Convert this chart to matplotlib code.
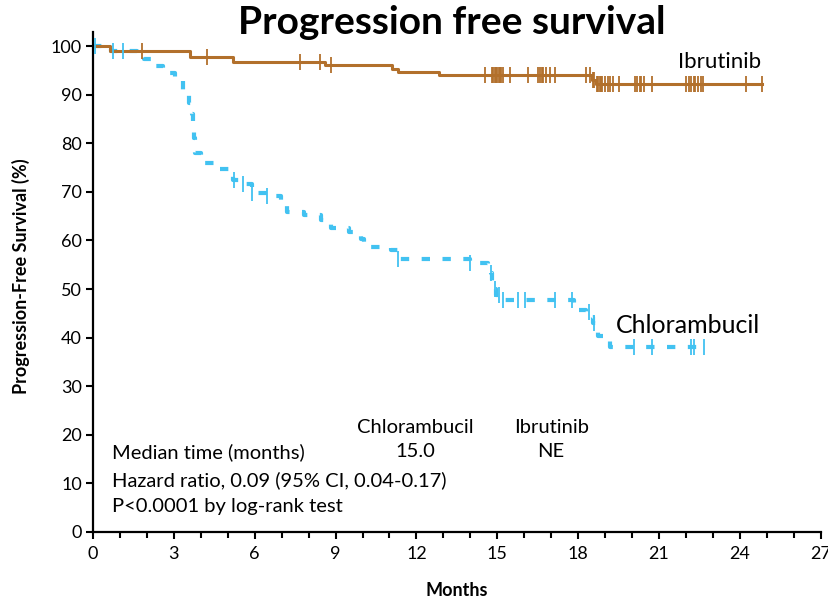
import numpy as np
import matplotlib
matplotlib.use("Agg")
import matplotlib.pyplot as plt

plt.rcParams["font.family"] = ["Lato", "DejaVu Sans"]

# Kaplan-Meier steps: (time in months, survival % after the event)
ibr_times = [0, 0.63, 3.6, 5.2, 8.6, 11.1, 11.3, 12.85, 18.5, 18.65]
ibr_surv = [100, 99.0, 97.8, 96.8, 96.2, 95.3, 94.7, 94.0, 93.0, 92.3]
ibr_end = 24.84
ibr_censor = [1.81, 4.23, 7.67, 8.42, 8.83, 14.54, 14.8, 14.85, 14.9, 14.95,
              15.0, 15.05, 15.1, 15.15, 15.2, 15.47, 16.15, 16.5, 16.6, 16.65,
              16.7, 16.8, 16.96, 17.15, 18.3, 18.45, 18.55, 18.6, 18.7, 18.75,
              18.8, 18.85, 18.9, 19.0, 19.1, 19.2, 19.3, 19.53, 20.1, 20.2,
              20.3, 20.35, 20.45, 20.75, 22.0, 22.1, 22.2, 22.3, 22.35, 22.45,
              22.55, 22.65, 24.22, 24.84]

chl_times = [0, 0.65, 1.65, 1.9, 2.2, 2.6, 3.05, 3.35, 3.55, 3.67, 3.72, 3.76,
             3.8, 4.0, 4.6, 5.1, 5.2, 5.47, 5.9, 6.47, 6.96, 7.2, 7.83, 8.45,
             8.83, 9.5, 9.94, 10.07, 10.3, 11.06, 11.3, 13.98, 14.66, 14.75,
             14.8, 14.85, 14.95, 15.16, 17.85, 18.3, 18.45, 18.55, 18.65,
             18.75, 19.2]
chl_surv = [100, 99.0, 98.2, 97.3, 95.8, 94.5, 92.9, 90.5, 88.3, 86.0, 83.5,
            81.0, 78.0, 76.0, 74.8, 73.3, 72.4, 71.7, 69.8, 69.1, 68.0, 65.9,
            65.2, 64.2, 62.5, 61.8, 60.4, 59.7, 58.7, 58.0, 56.1, 55.3, 54.9,
            53.3, 51.5, 50.0, 48.8, 47.7, 45.7, 45.2, 44.3, 43.0, 41.5, 40.3,
            38.1]
chl_end = 22.73
chl_censor = [0.07, 0.74, 1.12, 5.22, 5.57, 5.9, 6.47, 11.31, 13.98, 14.75,
              14.9, 15.05, 15.2, 15.78, 16.03, 17.15, 17.77, 18.4, 18.6, 20.06,
              20.75, 22.17, 22.3, 22.67]

x_ticks = list(range(0, 28, 3))
y_ticks = list(range(0, 101, 10))

BROWN = "#B2702C"
BLUE = "#42C2F1"


def surv_at(times, surv, t):
    """Survival value of a step curve at time t."""
    idx = np.searchsorted(times, t, side="right") - 1
    return surv[max(idx, 0)]


def draw_curve(ax, times, surv, end, censor, color, lw, mark_z=3, **kw):
    xs = list(times) + [end]
    ys = list(surv) + [surv[-1]]
    ax.step(xs, ys, where="post", color=color, lw=lw, **kw)
    cy = [surv_at(times, surv, t) for t in censor]
    ax.plot(censor, cy, ls="none", marker="|", ms=11, mew=1.3, color=color,
            zorder=mark_z)


fig = plt.figure(figsize=(8.29, 6.0), dpi=100)
ax = fig.add_axes([93 / 829, 68 / 600, (820.7 - 93) / 829, (532 - 32) / 600])

draw_curve(ax, chl_times, chl_surv, chl_end, chl_censor, BLUE, 3.0,
           mark_z=4, dashes=(2, 3), solid_capstyle="butt", dash_capstyle="butt")
draw_curve(ax, ibr_times, ibr_surv, ibr_end, ibr_censor, BROWN, 2.2)

ax.set_xlim(0, 27)
ax.set_ylim(0, 102.9)
ax.set_xticks(x_ticks)
ax.set_xticks(range(0, 28), minor=True)
ax.set_yticks(y_ticks)
ax.tick_params(axis="both", labelsize=13, width=1.5, length=5, color="black")
ax.tick_params(axis="x", which="minor", width=1.5, length=4)
ax.tick_params(axis="x", pad=5)
ax.tick_params(axis="y", pad=3)
for side in ("top", "right"):
    ax.spines[side].set_visible(False)
for side in ("left", "bottom"):
    ax.spines[side].set_linewidth(1.6)
for lbl in ax.get_xticklabels():
    lbl.set_clip_on(False)

# curve labels
ax.text(21.7, 96.7, "Ibrutinib", fontsize=16, ha="left", va="center")
ax.text(19.4, 42.6, "Chlorambucil", fontsize=18, ha="left", va="center")

# summary table
ax.text(11.95, 21.6, "Chlorambucil", fontsize=14.5, ha="center", va="center")
ax.text(17.0, 21.6, "Ibrutinib", fontsize=14.5, ha="center", va="center")
ax.text(0.7, 16.5, "Median time (months)", fontsize=14.5, va="center")
ax.text(11.95, 16.5, "15.0", fontsize=14.5, ha="center", va="center")
ax.text(17.0, 16.5, "NE", fontsize=14.5, ha="center", va="center")
ax.text(0.7, 10.7, "Hazard ratio, 0.09 (95% CI, 0.04-0.17)", fontsize=14.5, va="center")
ax.text(0.7, 5.3, "P<0.0001 by log-rank test", fontsize=14.5, va="center")

fig.text(0.545, 0.962, "Progression free survival", fontsize=28,
         fontweight="bold", ha="center", va="center")
fig.text(0.025, 0.54, "Progression-Free Survival (%)", fontsize=13,
         fontweight="bold", rotation=90, ha="center", va="center")
fig.text(0.551, 0.016, "Months", fontsize=13, fontweight="bold",
         ha="center", va="center")

fig.savefig("out.png", dpi=100)
